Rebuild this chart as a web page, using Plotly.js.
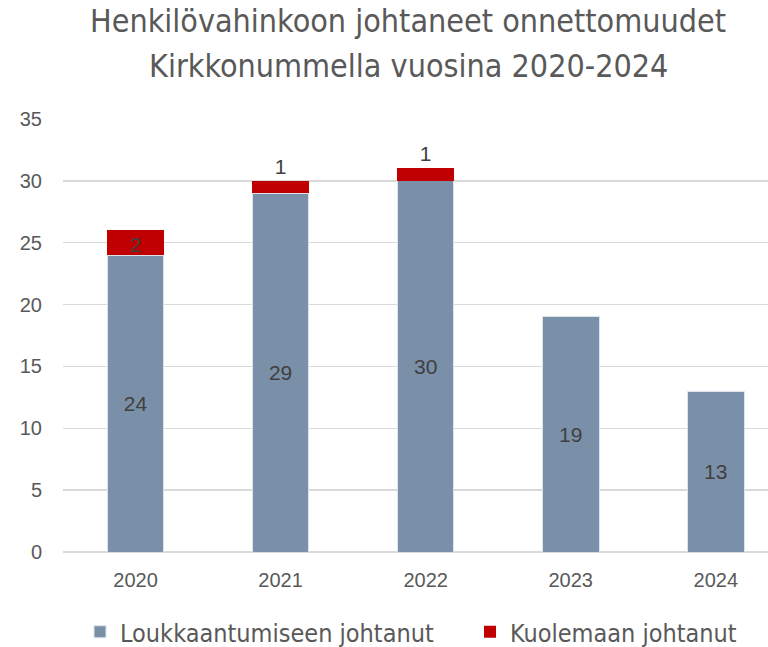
<!DOCTYPE html>
<html>
<head>
<meta charset="utf-8">
<script src="https://cdn.plot.ly/plotly-3.0.1.min.js"></script>
<style>html,body{margin:0;padding:0;background:#fff;overflow:hidden}#chart{width:768px;height:647px}</style>
</head>
<body>
<div id="chart"></div>
<script>
var years = ['2020', '2021', '2022', '2023', '2024'];
var injured = [24, 29, 30, 19, 13];
var deaths = [2, 1, 1, 0, 0];
var titleLine1 = 'Henkilövahinkoon johtaneet onnettomuudet';
var titleLine2 = 'Kirkkonummella vuosina 2020-2024';
var yTicks = [0, 5, 10, 15, 20, 25, 30, 35];

var narrow = '"Liberation Sans Narrow", "DejaVu Sans Condensed", "Arial Narrow", sans-serif';
var regular = '"Liberation Sans", Arial, sans-serif';

var deathText = deaths.map(function (v) { return v > 0 ? String(v) : ''; });
var deathPos = deaths.map(function (v, i) { return i === 0 ? 'inside' : 'outside'; });

var labelFont = {family: regular, size: 21, color: '#404040'};

var traces = [
  {
    type: 'bar', name: 'Loukkaantumiseen johtanut', x: years, y: injured,
    marker: {color: '#7A90A8', line: {color: '#DCE3EA', width: 1}},
    text: injured.map(String), textposition: 'inside', insidetextanchor: 'middle',
    textangle: 0, textfont: labelFont, insidetextfont: labelFont,
    constraintext: 'none', width: 0.39, hoverinfo: 'skip', legend: 'legend'
  },
  {
    type: 'bar', name: 'Kuolemaan johtanut', x: years, y: deaths,
    marker: {color: '#C00000', line: {width: 0}},
    text: deathText, textposition: deathPos, insidetextanchor: 'end',
    textangle: 0, textfont: labelFont, outsidetextfont: labelFont, insidetextfont: labelFont,
    constraintext: 'none', cliponaxis: false, width: 0.39, hoverinfo: 'skip', legend: 'legend2'
  }
];

var legendCommon = {
  orientation: 'h', xanchor: 'left', yanchor: 'top',
  y: (552 - 609) / 433,
  font: {family: narrow, size: 25, color: '#595959'},
  bgcolor: 'rgba(0,0,0,0)'
};

var layout = {
  width: 768, height: 647,
  margin: {l: 63, r: 0, t: 119, b: 95, autoexpand: false},
  barmode: 'stack',
  paper_bgcolor: '#ffffff', plot_bgcolor: '#ffffff',
  showlegend: true,
  title: {
    text: titleLine1, x: (408 - 63) / 705, xanchor: 'center', xref: 'paper',
    y: 1 - 21 / 647, yanchor: 'middle', yref: 'container',
    font: {family: narrow, size: 32, color: '#595959'}
  },
  annotations: [{
    text: titleLine2, xref: 'paper', yref: 'paper',
    x: (408 - 63) / 705, y: (552 - 66) / 433, xanchor: 'center', yanchor: 'middle',
    showarrow: false, font: {family: narrow, size: 32, color: '#595959'}
  }],
  xaxis: {
    type: 'category', range: [-0.5, 4.36], fixedrange: true,
    showgrid: false, zeroline: false, showline: false, ticks: '',
    tickfont: {family: regular, size: 20, color: '#595959'},
    ticklabelstandoff: 14
  },
  yaxis: {
    range: [0, 35], tickvals: yTicks, ticktext: yTicks.map(String),
    showgrid: true, gridcolor: '#D9D9D9', gridwidth: 1.5,
    zeroline: true, zerolinecolor: '#D9D9D9', zerolinewidth: 1.5,
    showline: false, ticks: '',
    tickfont: {family: regular, size: 20, color: '#595959'},
    ticklabelstandoff: 20
  },
  legend: Object.assign({}, legendCommon, {x: (80 - 63) / 705}),
  legend2: Object.assign({}, legendCommon, {x: (470 - 63) / 705})
};

Plotly.newPlot('chart', traces, layout, {displayModeBar: false, staticPlot: true});
</script>
</body>
</html>
